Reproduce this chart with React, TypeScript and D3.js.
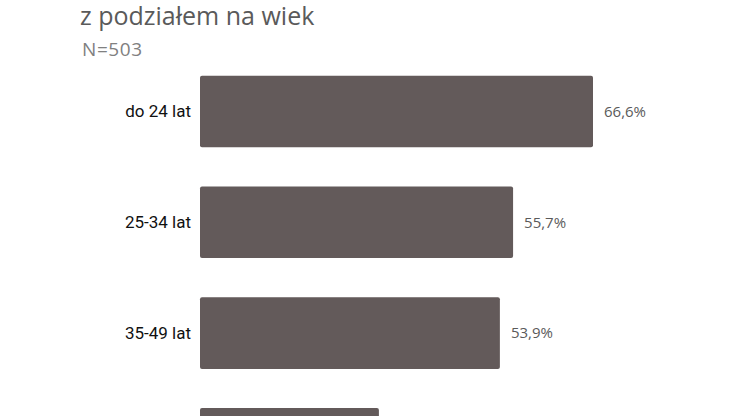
import { scaleBand, scaleLinear } from 'd3';

const categories = ['do 24 lat', '25-34 lat', '35-49 lat', '50+ lat'];
const shares = [66.6, 55.7, 53.9, 37.4];
const valueLabels = ['66,6%', '55,7%', '53,9%', '37,4%'];

const title = 'z podziałem na wiek';
const subtitle = 'N=503';

const width = 737;
const height = 416;

export default function App() {
  // bars in the source are not drawn from zero, so the scale starts a bit above it
  const xScale = scaleLinear().domain([13, 66.6]).range([200, 593]);

  const yScale = scaleBand<string>()
    .domain(categories)
    .range([75.7, 479.7])
    .paddingInner(0.354)
    .paddingOuter(0);

  return (
    <svg
      width={width}
      height={height}
      viewBox={`0 0 ${width} ${height}`}
      style={{ position: 'absolute', left: 0, top: 0, background: '#ffffff' }}
    >
      <text x={80} y={25} fontFamily="'Open Sans', sans-serif" fontSize={25} fill="#5a5a5a">
        {title}
      </text>
      <text
        x={82}
        y={56}
        fontFamily="'Open Sans', sans-serif"
        fontSize={19}
        letterSpacing={0.6}
        fill="#808080"
      >
        {subtitle}
      </text>

      {categories.map((category, index) => {
        const y = yScale(category) ?? 0;
        const barEnd = xScale(shares[index]);
        const mid = y + yScale.bandwidth() / 2;
        return (
          <g key={category}>
            <rect
              x={xScale.range()[0]}
              y={y}
              width={barEnd - xScale.range()[0]}
              height={yScale.bandwidth()}
              rx={2}
              fill="#635a5a"
            />
            <text
              x={191}
              y={mid}
              dy="0.35em"
              textAnchor="end"
              fontFamily="Roboto, sans-serif"
              fontSize={17}
              fill="#111111"
            >
              {category}
            </text>
            <text
              x={barEnd + 11}
              y={mid}
              dy="0.35em"
              fontFamily="'Open Sans', sans-serif"
              fontSize={15}
              fill="#5a5a5a"
            >
              {valueLabels[index]}
            </text>
          </g>
        );
      })}
    </svg>
  );
}
